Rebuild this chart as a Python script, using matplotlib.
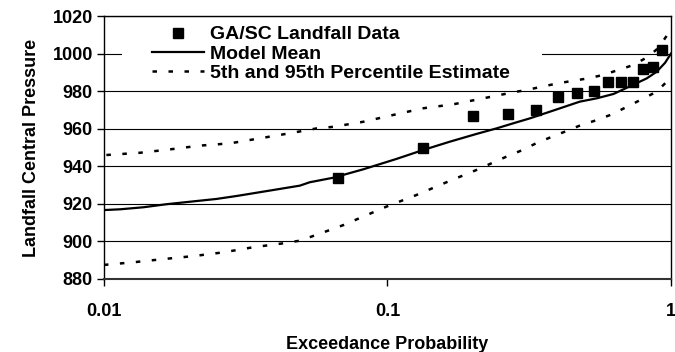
import matplotlib

matplotlib.use("Agg")
import matplotlib.pyplot as plt
from matplotlib.patches import Rectangle
from matplotlib.ticker import FixedLocator, NullLocator

# GA/SC landfall observations (plotting position k/15)
obs_prob = [1/15, 2/15, 3/15, 4/15, 5/15, 6/15, 7/15, 8/15, 9/15, 10/15,
            11/15, 12/15, 13/15, 14/15]
obs_pres = [934, 950, 967, 968, 970, 977, 979, 980, 985, 985, 985, 992, 993, 1002]

# model mean curve
mean_prob = [0.01, 0.0114, 0.0138, 0.0166, 0.0212, 0.0249, 0.0294, 0.0375,
             0.0491, 0.0532, 0.0643, 0.0822, 0.1075, 0.1338, 0.166, 0.2058,
             0.2428, 0.278, 0.3178, 0.3958, 0.4765, 0.548, 0.627, 0.7128,
             0.8215, 0.89, 0.9534, 1.0]
mean_pres = [916.7, 917.1, 918.2, 919.8, 921.5, 922.6, 924.2, 926.8,
             929.7, 931.5, 933.9, 938.4, 943.9, 948.7, 953.1, 957.2,
             960.2, 962.9, 965.5, 970.3, 974.4, 976.2, 978.5, 982.4,
             986.8, 990.3, 995.1, 1000.0]

# 95th percentile (upper)
upper_prob = [0.0102, 0.0134, 0.0171, 0.0218, 0.0278, 0.0355, 0.0453, 0.0564,
              0.0643, 0.0822, 0.1046, 0.1338, 0.1707, 0.218, 0.278, 0.3086,
              0.40, 0.509, 0.5755, 0.65, 0.736, 0.83, 0.90, 0.98, 1.0]
upper_pres = [946.0, 947.2, 949.0, 951.0, 952.2, 954.9, 957.6, 960.2,
              961.0, 963.7, 967.3, 970.9, 973.0, 976.2, 979.4, 980.6,
              984.2, 986.8, 988.6, 991.2, 993.9, 998.3, 1002.8, 1010.8, 1012.5]

# 5th percentile (lower)
lower_prob = [0.01, 0.0127, 0.0162, 0.0207, 0.0264, 0.0336, 0.0429, 0.0491,
              0.0547, 0.0627, 0.0699, 0.0991, 0.1265, 0.1615, 0.2058, 0.2625,
              0.30, 0.334, 0.38, 0.4285, 0.483, 0.548, 0.62, 0.70, 0.79,
              0.89, 0.966, 1.0]
lower_pres = [887.5, 888.9, 890.6, 892.2, 894.2, 896.9, 899.0, 900.4,
              902.9, 906.1, 908.7, 918.5, 924.7, 931.5, 938.0, 945.1,
              948.7, 952.2, 955.7, 958.8, 962.0, 964.6, 967.7, 971.7, 975.7,
              979.7, 985.0, 987.5]

y_ticks = [880, 900, 920, 940, 960, 980, 1000, 1020]
x_ticks = [0.01, 0.1, 1]
x_labels = ["0.01", "0.1", "1"]

plt.rcParams["font.family"] = ["Liberation Sans", "DejaVu Sans"]
plt.rcParams["font.weight"] = "bold"

fig = plt.figure(figsize=(6.75, 3.52), dpi=100)
ax = fig.add_axes([0.154, 0.2074, 0.84, 0.7471])

dash = (0, (1.8, 4.6))
ax.plot(obs_prob, obs_pres, "s", color="black", markersize=7.5, zorder=4,
        label="GA/SC Landfall Data")
ax.plot(mean_prob, mean_pres, "-", color="black", linewidth=1.6, zorder=3,
        label="Model Mean")
ax.plot(upper_prob, upper_pres, linestyle=dash, color="black", linewidth=1.8,
        zorder=3, label="5th and 95th Percentile Estimate")
ax.plot(lower_prob, lower_pres, linestyle=dash, color="black", linewidth=1.8,
        zorder=3)

ax.set_xscale("log")
ax.set_xlim(0.01, 1)
ax.set_ylim(880, 1020)
ax.xaxis.set_major_locator(FixedLocator(x_ticks))
ax.xaxis.set_minor_locator(NullLocator())
ax.set_xticklabels(x_labels)
ax.set_yticks(y_ticks)
ax.tick_params(axis="both", direction="out", length=5, width=1, labelsize=13,
               color="black")
ax.tick_params(axis="x", pad=12)
ax.tick_params(axis="y", pad=3)
ax.yaxis.grid(True, color="black", linewidth=0.8)
ax.set_axisbelow(True)
for s in ax.spines.values():
    s.set_linewidth(1.0)
ax.spines["bottom"].set_linewidth(1.5)
ax.spines["bottom"].set_color("#333333")

ax.set_xlabel("Exceedance Probability", fontsize=13, fontweight="bold", labelpad=12)
ax.set_ylabel("Landfall Central Pressure", fontsize=13, fontweight="bold", labelpad=9)

# white legend area hiding the gridline behind it
ax.add_patch(Rectangle((0.032, 0.734), 0.74, 0.25, transform=ax.transAxes,
                       facecolor="white", edgecolor="none", zorder=2))

leg = ax.legend(loc="upper left", bbox_to_anchor=(0.0847, 0.963), frameon=False,
                fontsize=14, handlelength=2.7, handletextpad=0.3,
                labelspacing=0.08, borderpad=0, borderaxespad=0)
leg.set_zorder(5)
for t in leg.get_texts():
    t.set_fontweight("bold")

fig.savefig("out.png", dpi=100, facecolor="white")
